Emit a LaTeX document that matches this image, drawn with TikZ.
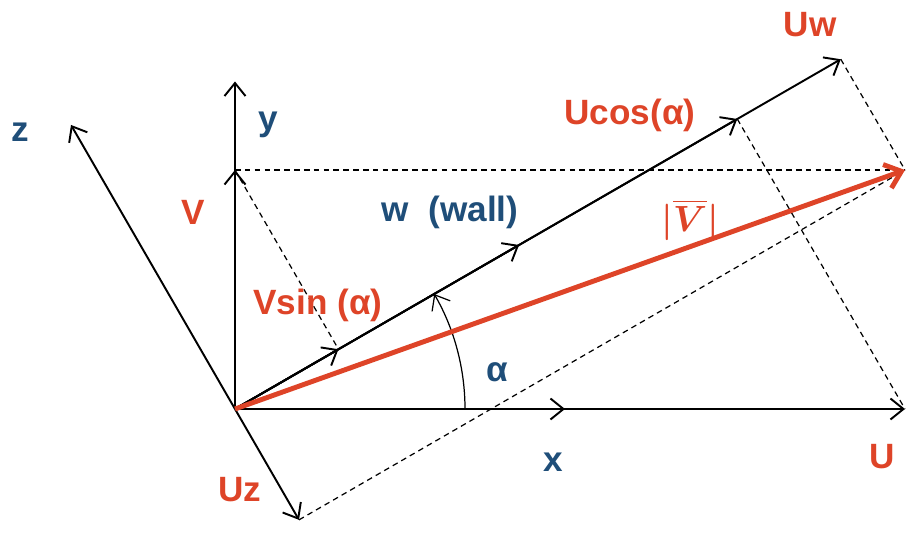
\documentclass[tikz,border=0pt]{standalone}
\usepackage{amsmath,amssymb}
\usepackage{fontspec}
\setmainfont{Liberation Sans}
\usepackage{tikz}
\usetikzlibrary{arrows.meta,positioning}

\definecolor{vecred}{RGB}{222,68,40}
\definecolor{axblue}{RGB}{31,78,121}

\begin{document}
\begin{tikzpicture}[
    >={Straight Barb[length=2.6mm,width=4.2mm]},
    line width=1.1pt,
    vec/.style={->},
    proj/.style={line width=0.7pt, dash pattern=on 3.2pt off 2.4pt},
    redlbl/.style={text=vecred, font=\bfseries\fontsize{20}{24}\selectfont, inner sep=1pt},
    bluelbl/.style={text=axblue, font=\bfseries\fontsize{20}{24}\selectfont, inner sep=1pt}
]
    \useasboundingbox (-4.7,-2.5) rectangle (13.44,8.18);

    % points
    \coordinate (O) at (0,0);
    \coordinate (U) at (13.4,0);
    \coordinate (V) at (0,4.78);
    \coordinate (Vtot) at (13.4,4.78);
    \coordinate (xa) at (6.6,0);
    \coordinate (ya) at (0,6.55);
    \coordinate (za) at (120:6.56);
    \coordinate (wa) at (30:6.56);
    \coordinate (Uw) at (30:13.99);
    \coordinate (Ucos) at (30:11.6);
    \coordinate (Vsin) at (30:2.39);
    \coordinate (Uz) at (-60:2.56);

    % projections
    \draw[proj] (V) -- (Vtot);
    \draw[proj] (V) -- (Vsin);
    \draw[proj] (Ucos) -- (U);
    \draw[proj] (Uw) -- (Vtot);
    \draw[proj] (Uz) -- (Vtot);

    % axes and components
    \draw[vec] (O) -- (U);
    \draw[vec] (O) -- (xa);
    \draw[vec] (O) -- (ya);
    \draw[vec] (O) -- (V);
    \draw[vec] (O) -- (za);
    \draw[vec] (O) -- (Uz);
    \draw[vec] (O) -- (Uw);
    \draw[vec] (O) -- (Ucos);
    \draw[vec] (O) -- (wa);
    \draw[vec] (O) -- (Vsin);
    \draw[->, line width=0.7pt] (4.6,0) arc[start angle=0, end angle=30, radius=4.6];

    % velocity
    \draw[vec, vecred, line width=2.8pt, >={Straight Barb[length=3mm,width=5mm]}] (O) -- (Vtot);

    % labels
    \node[bluelbl] (lz) at (-4.3,5.54) {z};
    \node[bluelbl] (ly) at (0.66,5.68) {y};
    \node[bluelbl] (lx) at (6.36,-1.06) {x};
    \node[bluelbl] (lw) at (4.3,3.94) {w\ \ (wall)};
    \node[bluelbl] (lalpha) at (5.24,0.74) {α};
    \node[redlbl] (lV) at (-0.84,3.94) {V};
    \node[redlbl] (lVsin) at (1.66,2.08) {Vsin (α)};
    \node[redlbl] (lUcos) at (7.9,5.88) {Ucos(α)};
    \node[redlbl] (lUw) at (11.5,7.68) {Uw};
    \node[redlbl] (lVmag) at (9.1,3.78) {$\boldsymbol{|\overline{V}|}$};
    \node[redlbl] (lU) at (12.94,-0.96) {U};
    \node[redlbl] (lUz) at (0.1,-1.62) {Uz};
\end{tikzpicture}
\end{document}
